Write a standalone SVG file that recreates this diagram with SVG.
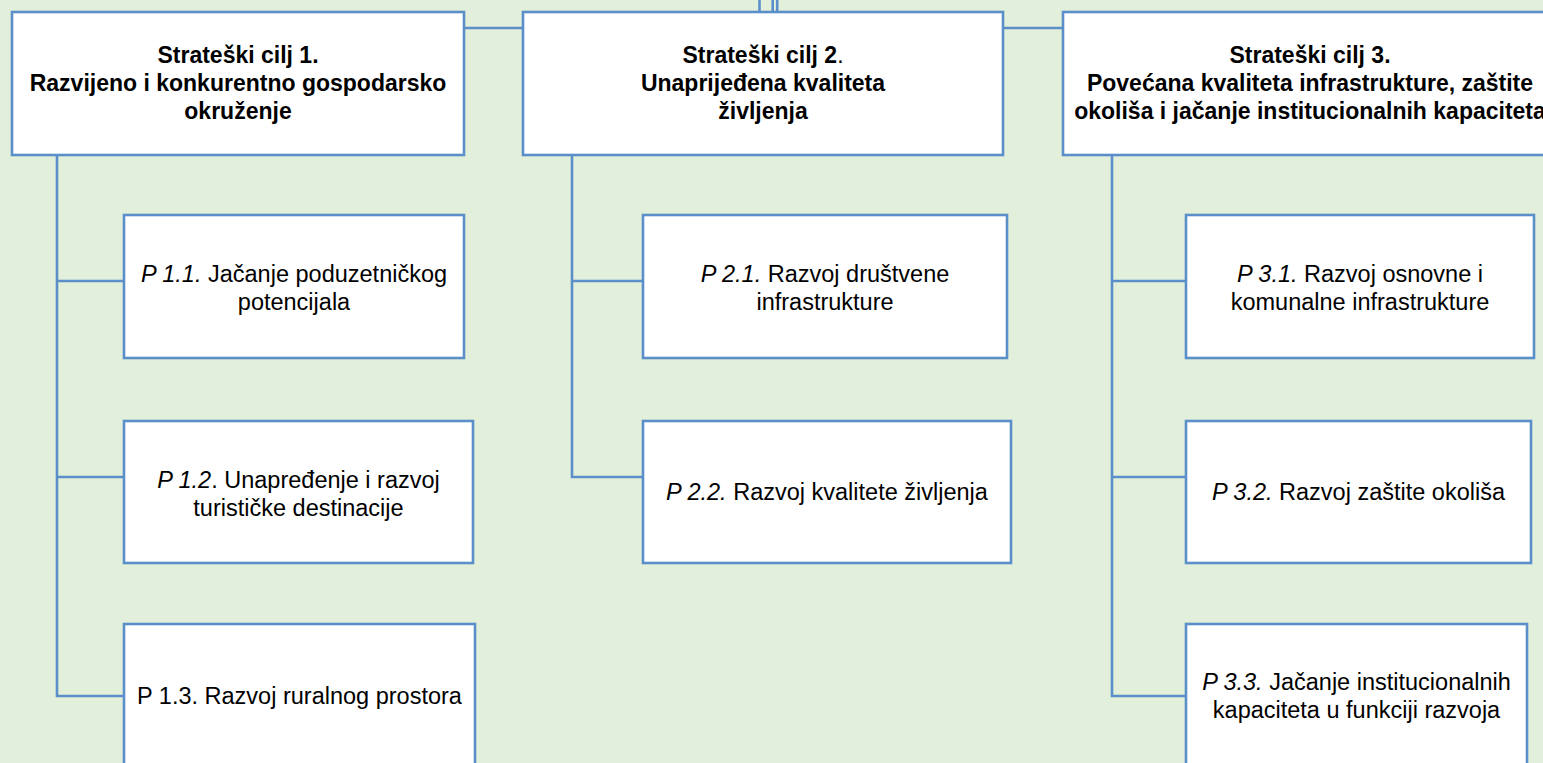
<svg xmlns="http://www.w3.org/2000/svg" width="1543" height="763" viewBox="0 0 1543 763">
<style>
.bg{fill:#E2EFDA}
.box{fill:#FFFFFF;stroke:#5B8FC9;stroke-width:2.6}
.ln{stroke:#5B8FC9;stroke-width:2.6;fill:none}
.t{font-family:"Liberation Sans",Arial,sans-serif;fill:#000;text-anchor:middle}
.h{font-size:23px;font-weight:bold}
.s{font-size:23.5px}
.i{font-style:italic}
.n{font-weight:normal}
</style>
<rect class="bg" x="0" y="0" width="1543" height="763"/>
<g id="connectors">
<line class="ln" x1="759.5" y1="0" x2="759.5" y2="12"/>
<line class="ln" x1="772.7" y1="0" x2="772.7" y2="12"/>
<line class="ln" x1="777.2" y1="0" x2="777.2" y2="12"/>
<line class="ln" x1="464" y1="28" x2="523" y2="28"/>
<line class="ln" x1="1003" y1="28" x2="1063" y2="28"/>
<polyline class="ln" points="57,155 57,696 124,696"/>
<line class="ln" x1="57" y1="281" x2="124" y2="281"/>
<line class="ln" x1="57" y1="477" x2="124" y2="477"/>
<polyline class="ln" points="572,155 572,477 643,477"/>
<line class="ln" x1="572" y1="281" x2="643" y2="281"/>
<polyline class="ln" points="1112,155 1112,696 1186,696"/>
<line class="ln" x1="1112" y1="281" x2="1186" y2="281"/>
<line class="ln" x1="1112" y1="477" x2="1186" y2="477"/>
</g>
<g id="sc1">
<rect class="box" x="12" y="12" width="452" height="143"/>
<text class="t h" x="238" y="63">Strateški cilj 1.</text>
<text class="t h" x="238" y="91">Razvijeno i konkurentno gospodarsko</text>
<text class="t h" x="238" y="119">okruženje</text>
</g>
<g id="sc2">
<rect class="box" x="523" y="12" width="480" height="143"/>
<text class="t h" x="763" y="63">Strateški cilj 2<tspan class="n">.</tspan></text>
<text class="t h" x="763" y="91">Unaprijeđena kvaliteta</text>
<text class="t h" x="763" y="119">življenja</text>
</g>
<g id="sc3">
<rect class="box" x="1063" y="12" width="494" height="143"/>
<text class="t h" x="1310" y="63">Strateški cilj 3.</text>
<text class="t h" x="1310" y="91">Povećana kvaliteta infrastrukture, zaštite</text>
<text class="t h" x="1310" y="119">okoliša i jačanje institucionalnih kapaciteta</text>
</g>
<g id="p11">
<rect class="box" x="124" y="215" width="340" height="143"/>
<text class="t s" x="294" y="282"><tspan class="i">P 1.1.</tspan> Jačanje poduzetničkog</text>
<text class="t s" x="294" y="310">potencijala</text>
</g>
<g id="p12">
<rect class="box" x="124" y="421" width="349" height="142"/>
<text class="t s" x="298.5" y="488"><tspan class="i">P 1.2</tspan>. Unapređenje i razvoj</text>
<text class="t s" x="298.5" y="516">turističke destinacije</text>
</g>
<g id="p13">
<rect class="box" x="124" y="624" width="351" height="160"/>
<text class="t s" x="299.5" y="704">P 1.3. Razvoj ruralnog prostora</text>
</g>
<g id="p21">
<rect class="box" x="643" y="215" width="364" height="143"/>
<text class="t s" x="825" y="282"><tspan class="i">P 2.1.</tspan> Razvoj društvene</text>
<text class="t s" x="825" y="310">infrastrukture</text>
</g>
<g id="p22">
<rect class="box" x="643" y="421" width="368" height="142"/>
<text class="t s" x="827" y="500"><tspan class="i">P 2.2.</tspan> Razvoj kvalitete življenja</text>
</g>
<g id="p31">
<rect class="box" x="1186" y="215" width="348" height="143"/>
<text class="t s" x="1360" y="282"><tspan class="i">P 3.1.</tspan> Razvoj osnovne i</text>
<text class="t s" x="1360" y="310">komunalne infrastrukture</text>
</g>
<g id="p32">
<rect class="box" x="1186" y="421" width="345" height="142"/>
<text class="t s" x="1358.5" y="500"><tspan class="i">P 3.2.</tspan> Razvoj zaštite okoliša</text>
</g>
<g id="p33">
<rect class="box" x="1186" y="624" width="341" height="160"/>
<text class="t s" x="1356.5" y="690"><tspan class="i">P 3.3.</tspan> Jačanje institucionalnih</text>
<text class="t s" x="1356.5" y="718">kapaciteta u funkciji razvoja</text>
</g>
</svg>
